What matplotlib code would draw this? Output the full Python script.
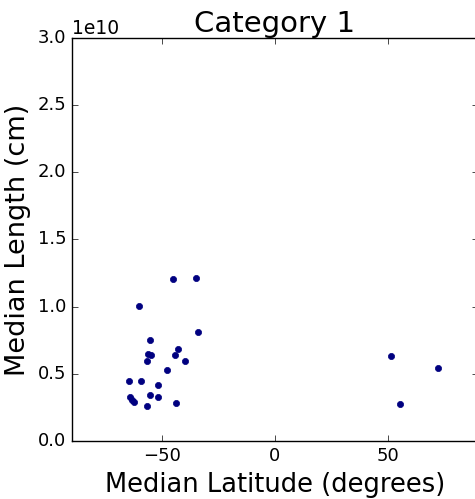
import matplotlib
matplotlib.use("Agg")
import matplotlib.pyplot as plt

plt.style.use('classic')

latitude = [-45.4, -35.2, -60.1, -34.3, -55.3, -42.8, -56.2, -55.0, -44.2, -56.8,
            -40.0, -48.1, -64.7, -59.5, -51.9, -64.4, -63.2, -62.5, -55.3, -51.9,
            -56.8, -43.8, 51.3, 72.3, 55.6]
length = [1.204, 1.211, 1.003, 0.809, 0.754, 0.683, 0.650, 0.643, 0.640, 0.593,
          0.593, 0.529, 0.449, 0.449, 0.415, 0.325, 0.305, 0.293, 0.343, 0.328,
          0.263, 0.285, 0.633, 0.544, 0.273]
length = [v * 1e10 for v in length]

fig = plt.figure(figsize=(4.75, 4.99), dpi=100, facecolor='white')
ax = fig.add_axes([72/475, 58/499, 406/475, 403/499])
ax.scatter(latitude, length, s=20, c='navy', edgecolors='navy', linewidths=0.5)
ax.set_xlim(-90, 90)
ax.set_ylim(0, 3e10)
ax.set_xticks([-50, 0, 50])
ax.set_yticks([0, 0.5e10, 1.0e10, 1.5e10, 2.0e10, 2.5e10, 3.0e10])
ax.tick_params(labelsize=13)
ax.yaxis.get_offset_text().set_fontsize(13.5)
ax.set_title('Category 1', fontsize=21, pad=4)
ax.set_xlabel('Median Latitude (degrees)', fontsize=18.5)
ax.set_ylabel('Median Length (cm)', fontsize=19.5)
fig.savefig('out.png', dpi=100, facecolor='white')
